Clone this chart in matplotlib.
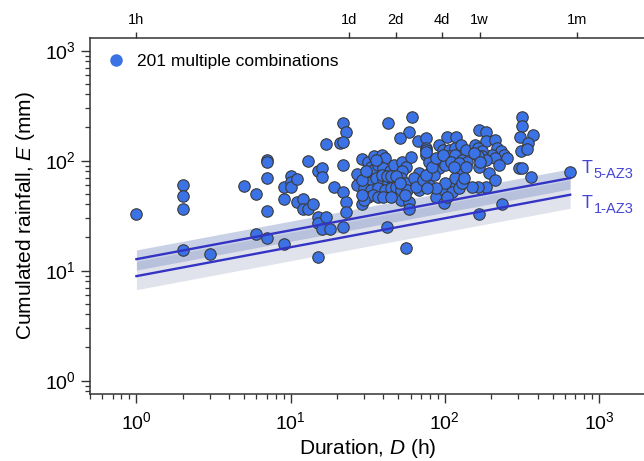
import numpy as np
import matplotlib
matplotlib.use("Agg")
import matplotlib.pyplot as plt
from matplotlib.lines import Line2D
from matplotlib.ticker import LogLocator, NullFormatter, FixedLocator, NullLocator

plt.rcParams['font.family'] = ['Liberation Sans', 'DejaVu Sans']
plt.rcParams['mathtext.fontset'] = 'custom'
plt.rcParams['mathtext.rm'] = 'Liberation Sans'
plt.rcParams['mathtext.it'] = 'Liberation Sans:italic'

# rainfall events: duration (h) and cumulated rainfall (mm)
duration = [
    1, 2, 2, 2, 2, 3, 5, 6, 6, 7, 7, 7, 7, 7, 9, 9, 9,
    10, 10, 10, 11, 11, 12, 12, 13, 14, 13, 15, 16, 16, 15, 15, 17, 16, 18, 15, 17,
    19, 22, 23, 23, 22, 22, 22, 23, 21, 22,
    29, 27, 29, 27,
    32, 35, 39, 41, 33, 34, 37, 40, 44, 47, 31, 33, 36, 40, 43, 46, 30, 33, 37, 41,
    45, 48, 32, 34, 30,
    53, 56, 60, 53, 52, 55, 52, 57, 52, 59, 59,
    42, 56, 43, 61, 59, 51, 67, 75, 76, 75, 79, 68, 67, 68, 79, 88, 99, 99,
    92, 104, 119, 97, 107, 117, 127, 137, 107, 117, 130, 140,
    88, 92, 81, 85, 97, 101, 121, 123, 117, 111, 130, 117,
    166, 184, 184, 158, 163, 213, 218, 230, 241, 252, 203, 213, 175, 175, 175, 184,
    163, 155, 166, 193, 213, 184, 163, 151, 166, 235,
    317, 317, 309, 371, 346, 312, 342, 302, 317, 364, 650,
    75, 76,
    29, 31, 36, 39, 42, 45, 48, 51, 29, 37, 40, 45, 55, 63, 65, 72, 75, 83, 88, 97,
    109, 123, 137, 114, 123, 130, 101, 104, 88, 77, 133, 170, 224,
]
rainfall = [
    33, 60, 48, 36, 15.4, 14.1, 59, 50, 21.4, 101, 98, 70, 35, 19.7, 57, 45, 17.5,
    72, 64, 57, 68, 42, 45, 36, 36, 40, 99, 81, 86, 71, 31, 27, 31, 24, 24, 13.2, 141,
    57, 52, 42, 34, 25, 91, 219, 181, 144, 147,
    104, 76, 40, 60,
    98, 111, 112, 105, 88, 82, 91, 85, 80, 91, 72, 64, 69, 67, 62, 64, 56, 54, 56, 54,
    56, 58, 47, 49, 44,
    98, 88, 107, 80, 69, 62, 54, 54, 44, 42, 36,
    25, 16, 221, 251, 183, 160, 149, 160, 130, 112, 98, 77, 64, 54, 60, 47, 41, 54,
    139, 163, 163, 125, 125, 130, 139, 125, 109, 112, 101, 98,
    91, 85, 80, 74, 98, 91, 82, 67, 60, 52, 80, 69,
    190, 183, 149, 139, 130, 154, 130, 121, 112, 105, 112, 105, 121, 109, 101, 101,
    109, 117, 88, 77, 67, 58, 58, 58, 33, 40,
    251, 207, 165, 169, 144, 121, 127, 85, 85, 71, 79,
    125, 120,
    67, 80, 101, 74, 72, 72, 72, 62, 49, 47, 47, 47, 49, 69, 58, 67, 74, 88, 105, 112,
    98, 95, 88, 88, 56, 62, 62, 47, 56, 56, 69, 98, 91,
]

# thresholds E = alpha * D^gamma, with band limits on alpha
thr_names = ['5', '1']
thr_alpha = [12.7, 8.9]
thr_gamma = [0.262, 0.263]
thr_alpha_low = [10.1, 6.7]
thr_alpha_high = [15.4, 12.1]
d_range = [1, 650]

top_ticks = [1, 24, 48, 96, 168, 720]
top_labels = ['1h', '1d', '2d', '4d', '1w', '1m']

point_color = '#3b73e6'
line_color = '#3434c4'
text_color = '#4646d2'

fig = plt.figure(figsize=(6.44, 4.61), dpi=100)
ax = fig.add_axes([90 / 644, 1 - 393.7 / 461, 555.4 / 644, 355.7 / 461])
ax.set_xscale('log')
ax.set_yscale('log')

d = np.logspace(np.log10(d_range[0]), np.log10(d_range[1]), 100)
# lower threshold band first, upper one on top so the overlap shows darker
ax.fill_between(d, thr_alpha_low[1] * d ** thr_gamma[1], thr_alpha_high[1] * d ** thr_gamma[1],
                color='#9ea5c3', alpha=0.3, lw=0, zorder=1)
ax.fill_between(d, thr_alpha_low[0] * d ** thr_gamma[0], thr_alpha_high[0] * d ** thr_gamma[0],
                color='#8799c7', alpha=0.45, lw=0, zorder=1)

ax.scatter(duration, rainfall, s=68, c=point_color, edgecolors='#3a3a3a', linewidths=0.8,
           zorder=3)

# labels beside the line ends, pushed apart a little
label_shift = [5, -8]
for name, a, g, dy in zip(thr_names, thr_alpha, thr_gamma, label_shift):
    ax.plot(d, a * d ** g, color=line_color, lw=1.7, zorder=4)
    yend = a * d_range[1] ** g
    ax.annotate('T', (d_range[1], yend), xytext=(8, dy + 2), textcoords='offset points',
                fontsize=13, color=text_color, va='center', ha='left')
    ax.annotate(name + '-AZ3', (d_range[1], yend), xytext=(17, dy - 2), textcoords='offset points',
                fontsize=10.5, color=text_color, va='center', ha='left')

ax.set_xlim(0.5, 2000)
ax.set_ylim(0.76, 1300)

ax.xaxis.set_minor_locator(LogLocator(base=10, subs=np.arange(2, 10)))
ax.yaxis.set_minor_locator(LogLocator(base=10, subs=np.arange(2, 10)))
ax.xaxis.set_minor_formatter(NullFormatter())
ax.yaxis.set_minor_formatter(NullFormatter())
ax.tick_params(which='major', direction='out', length=6.5, width=1, labelsize=14, color='#333')
ax.tick_params(which='minor', direction='out', length=3.4, width=0.9, color='#333')
ax.tick_params(axis='x', which='major', pad=6)

for sp in ax.spines.values():
    sp.set_color('#333')
    sp.set_linewidth(1.1)

ax.set_xlabel('Duration, $\\it{D}$ (h)', fontsize=15, labelpad=3)
ax.set_ylabel('Cumulated rainfall, $\\it{E}$ (mm)', fontsize=15, labelpad=6)

# duration markers on top
top = ax.twiny()
top.set_xscale('log')
top.set_xlim(ax.get_xlim())
top.xaxis.set_major_locator(FixedLocator(top_ticks))
top.xaxis.set_minor_locator(NullLocator())
top.set_xticklabels(top_labels)
top.tick_params(axis='x', direction='out', length=4, width=1, labelsize=10.5, color='#333', pad=4)
for sp in top.spines.values():
    sp.set_visible(False)

handle = Line2D([], [], marker='o', ls='none', markersize=9, markerfacecolor=point_color,
                markeredgecolor='none')
ax.legend([handle], ['201 multiple combinations'], loc='upper left', frameon=False,
          fontsize=12.5, handletextpad=0.2, borderaxespad=0.1, bbox_to_anchor=(0.0, 0.98))

fig.savefig('out.png', dpi=100)
